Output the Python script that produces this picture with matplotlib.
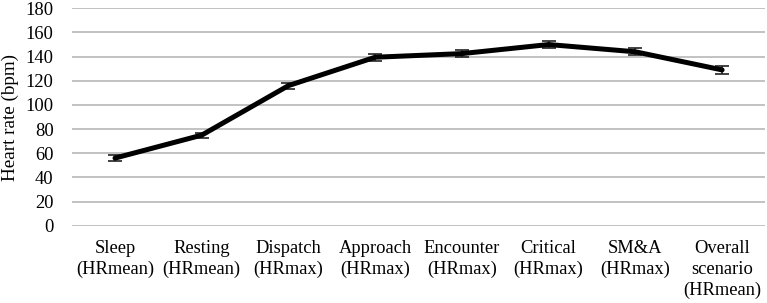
import numpy as np
import matplotlib.pyplot as plt

plt.rcParams.update({
    "font.family": ["Liberation Serif", "DejaVu Serif"],
    "font.size": 13,
})

CATEGORIES = [
    "Sleep\n(HRmean)", "Resting\n(HRmean)", "Dispatch\n(HRmax)", "Approach\n(HRmax)",
    "Encounter\n(HRmax)", "Critical\n(HRmax)", "SM&A\n(HRmax)", "Overall\nscenario\n(HRmean)",
]
HR = [56, 75, 116, 139.5, 142.5, 150, 144, 129]
HR_ERR = [2.5, 2, 2.5, 3, 3, 3, 3, 3]
Y_TICKS = list(range(0, 181, 20))


def main():
    fig = plt.figure(figsize=(7.67, 3.03), dpi=100)
    ax = fig.add_axes([0.0934, 0.255, 0.9046, 0.7176])

    x = np.arange(len(CATEGORIES))
    ax.errorbar(x, HR, yerr=HR_ERR, color="black", lw=3.6, elinewidth=1.2,
                capsize=5, capthick=1.2, ecolor="#222222", zorder=3,
                solid_capstyle="round", solid_joinstyle="round")

    ax.set_xlim(-0.5, len(CATEGORIES) - 0.5)
    ax.set_ylim(0, 180)
    ax.set_yticks(Y_TICKS)
    ax.set_xticks(x)
    ax.set_xticklabels(CATEGORIES, linespacing=1.3)
    ax.tick_params(length=0, labelsize=13.3)
    ax.tick_params(axis="x", pad=10)
    ax.tick_params(axis="y", pad=13)
    ax.grid(axis="y", color="#bdbdbd", lw=1.3)
    ax.set_axisbelow(True)
    for s in ax.spines.values():
        s.set_visible(False)
    ax.set_ylabel("Heart rate (bpm)", fontsize=13.8, labelpad=5)

    fig.savefig("out.png", dpi=100)
    plt.close(fig)


if __name__ == "__main__":
    main()
